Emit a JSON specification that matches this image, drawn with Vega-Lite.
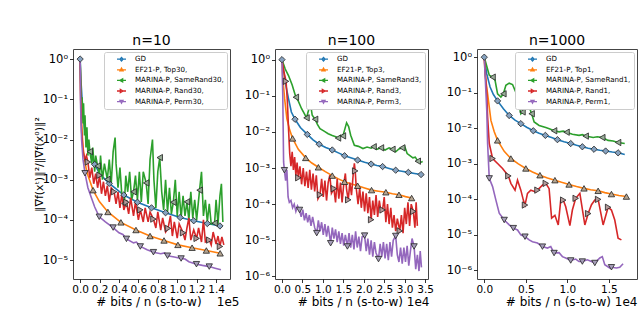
{
"$schema": "https://vega.github.io/schema/vega-lite/v6.json",
"padding": {"left": 32, "top": 33, "right": 0, "bottom": 0},
"background": "white",
"config": {
  "view": {"stroke": "#444", "strokeWidth": 1},
  "font": "DejaVu Sans",
  "axis": {"labelFont": "DejaVu Sans", "titleFont": "DejaVu Sans", "labelFontSize": 10.5, "titleFontSize": 12, "titleFontWeight": "normal", "grid": false, "domain": false, "tickColor": "#000", "tickSize": 3.5, "tickWidth": 0.8, "labelColor": "#000", "titleColor": "#000", "labelPadding": 2},
  "axisX": {"labelOverlap": false, "labelFlush": false},
  "axisY": {"labelFontSize": 11.5},
  "title": {"font": "DejaVu Sans", "fontSize": 14, "fontWeight": "normal", "offset": 1, "color": "#000"},
  "legend": {"orient": "top-right", "offset": 3, "title": null, "labelFont": "DejaVu Sans", "labelFontSize": 7.1, "labelColor": "#000", "fillColor": "white", "strokeColor": "#cccccc", "padding": 3, "cornerRadius": 2, "rowPadding": 1.6, "clipHeight": 8.4, "symbolSize": 40, "symbolOffset": 9, "labelOffset": 8}
},
"datasets": {
"p1": [
{"s":"GD","x":0,"y":1},{"s":"GD","x":0.01,"y":0.25},{"s":"GD","x":0.02,"y":0.1},{"s":"GD","x":0.035,"y":0.0316},{"s":"GD","x":0.05,"y":0.0158},{"s":"GD","x":0.08,"y":0.00708},{"s":"GD","x":0.12,"y":0.00355},{"s":"GD","x":0.156,"y":0.00229},{"s":"GD","x":0.2,"y":0.00141},{"s":"GD","x":0.3,"y":0.000813},{"s":"GD","x":0.45,"y":0.000417},{"s":"GD","x":0.59,"y":0.000275},{"s":"GD","x":0.735,"y":0.0002},{"s":"GD","x":0.88,"y":0.000151},{"s":"GD","x":1.03,"y":0.000115},{"s":"GD","x":1.17,"y":0.0000955},{"s":"GD","x":1.31,"y":0.0000813},{"s":"GD","x":1.44,"y":0.0000708},
{"s":"EF","x":0,"y":1},{"s":"EF","x":0.005,"y":0.158},{"s":"EF","x":0.015,"y":0.0251},{"s":"EF","x":0.03,"y":0.00631},{"s":"EF","x":0.06,"y":0.002},{"s":"EF","x":0.08,"y":0.00129},{"s":"EF","x":0.133,"y":0.00055},{"s":"EF","x":0.2,"y":0.000282},{"s":"EF","x":0.286,"y":0.000158},{"s":"EF","x":0.42,"y":0.0000871},{"s":"EF","x":0.575,"y":0.0000562},{"s":"EF","x":0.72,"y":0.0000398},{"s":"EF","x":0.864,"y":0.0000309},{"s":"EF","x":1.007,"y":0.000024},{"s":"EF","x":1.153,"y":0.0000204},{"s":"EF","x":1.3,"y":0.0000174},{"s":"EF","x":1.442,"y":0.0000148},
{"s":"SR","x":0,"y":1},{"s":"SR","x":0.005,"y":0.316},{"s":"SR","x":0.012,"y":0.1},{"s":"SR","x":0.02,"y":0.112},{"s":"SR","x":0.03,"y":0.0251},{"s":"SR","x":0.035,"y":0.0794},{"s":"SR","x":0.045,"y":0.0126},{"s":"SR","x":0.05,"y":0.0398},{"s":"SR","x":0.06,"y":0.00631},{"s":"SR","x":0.07,"y":0.02},{"s":"SR","x":0.08,"y":0.00398},{"s":"SR","x":0.09,"y":0.01},{"s":"SR","x":0.1,"y":0.00501},{"s":"SR","x":0.12,"y":0.00251},{"s":"SR","x":0.13,"y":0.00631},{"s":"SR","x":0.15,"y":0.00158},{"s":"SR","x":0.16,"y":0.00398},{"s":"SR","x":0.18,"y":0.00219},{"s":"SR","x":0.2,"y":0.00126},{"s":"SR","x":0.21,"y":0.00398},{"s":"SR","x":0.23,"y":0.001},{"s":"SR","x":0.25,"y":0.00251},{"s":"SR","x":0.28,"y":0.00102},{"s":"SR","x":0.3,"y":0.00316},{"s":"SR","x":0.32,"y":0.000794},{"s":"SR","x":0.34,"y":0.00501},{"s":"SR","x":0.36,"y":0.0112},{"s":"SR","x":0.37,"y":0.00251},{"s":"SR","x":0.39,"y":0.000631},{"s":"SR","x":0.41,"y":0.002},{"s":"SR","x":0.43,"y":0.000398},{"s":"SR","x":0.456,"y":0.000257},{"s":"SR","x":0.47,"y":0.00126},{"s":"SR","x":0.49,"y":0.000501},{"s":"SR","x":0.51,"y":0.00158},{"s":"SR","x":0.53,"y":0.000316},{"s":"SR","x":0.55,"y":0.000501},{"s":"SR","x":0.57,"y":0.00126},{"s":"SR","x":0.59,"y":0.000316},{"s":"SR","x":0.61,"y":0.00158},{"s":"SR","x":0.63,"y":0.000282},{"s":"SR","x":0.65,"y":0.00158},{"s":"SR","x":0.68,"y":0.000832},{"s":"SR","x":0.7,"y":0.000251},{"s":"SR","x":0.72,"y":0.00316},{"s":"SR","x":0.745,"y":0.01},{"s":"SR","x":0.76,"y":0.001},{"s":"SR","x":0.78,"y":0.0002},{"s":"SR","x":0.8,"y":0.00158},{"s":"SR","x":0.82,"y":0.00355},{"s":"SR","x":0.84,"y":0.000501},{"s":"SR","x":0.86,"y":0.000178},{"s":"SR","x":0.88,"y":0.001},{"s":"SR","x":0.9,"y":0.000158},{"s":"SR","x":0.92,"y":0.000631},{"s":"SR","x":0.94,"y":0.000141},{"s":"SR","x":0.96,"y":0.000275},{"s":"SR","x":0.98,"y":0.001},{"s":"SR","x":1.0,"y":0.000126},{"s":"SR","x":1.02,"y":0.000501},{"s":"SR","x":1.04,"y":0.000112},{"s":"SR","x":1.06,"y":0.000398},{"s":"SR","x":1.08,"y":0.000126},{"s":"SR","x":1.1,"y":0.000282},{"s":"SR","x":1.12,"y":0.0001},{"s":"SR","x":1.14,"y":0.000501},{"s":"SR","x":1.16,"y":0.000112},{"s":"SR","x":1.18,"y":0.000316},{"s":"SR","x":1.2,"y":0.0001},{"s":"SR","x":1.23,"y":0.00055},{"s":"SR","x":1.25,"y":0.00158},{"s":"SR","x":1.27,"y":0.000126},{"s":"SR","x":1.29,"y":0.000316},{"s":"SR","x":1.31,"y":0.0000891},{"s":"SR","x":1.33,"y":0.000251},{"s":"SR","x":1.35,"y":0.0000794},{"s":"SR","x":1.385,"y":0.0000832},{"s":"SR","x":1.4,"y":0.000316},{"s":"SR","x":1.42,"y":0.0000794},{"s":"SR","x":1.44,"y":0.000398},{"s":"SR","x":1.455,"y":0.000794},{"s":"SR","x":1.47,"y":0.0000891},
{"s":"R","x":0,"y":1},{"s":"R","x":0.005,"y":0.1},{"s":"R","x":0.015,"y":0.0158},{"s":"R","x":0.03,"y":0.00501},{"s":"R","x":0.05,"y":0.00316},{"s":"R","x":0.065,"y":0.00398},{"s":"R","x":0.08,"y":0.00275},{"s":"R","x":0.1,"y":0.00112},{"s":"R","x":0.12,"y":0.002},{"s":"R","x":0.14,"y":0.000794},{"s":"R","x":0.16,"y":0.00141},{"s":"R","x":0.18,"y":0.000631},{"s":"R","x":0.2,"y":0.00129},{"s":"R","x":0.22,"y":0.000447},{"s":"R","x":0.24,"y":0.000891},{"s":"R","x":0.26,"y":0.000398},{"s":"R","x":0.28,"y":0.000708},{"s":"R","x":0.3,"y":0.000282},{"s":"R","x":0.32,"y":0.000631},{"s":"R","x":0.35,"y":0.000501},{"s":"R","x":0.37,"y":0.000251},{"s":"R","x":0.39,"y":0.000501},{"s":"R","x":0.41,"y":0.0002},{"s":"R","x":0.43,"y":0.000447},{"s":"R","x":0.45,"y":0.000178},{"s":"R","x":0.477,"y":0.000275},{"s":"R","x":0.5,"y":0.000141},{"s":"R","x":0.52,"y":0.000355},{"s":"R","x":0.55,"y":0.000126},{"s":"R","x":0.57,"y":0.000282},{"s":"R","x":0.6,"y":0.0001},{"s":"R","x":0.62,"y":0.000178},{"s":"R","x":0.65,"y":0.0000891},{"s":"R","x":0.67,"y":0.0002},{"s":"R","x":0.7,"y":0.0000891},{"s":"R","x":0.72,"y":0.000158},{"s":"R","x":0.755,"y":0.000105},{"s":"R","x":0.78,"y":0.0000631},{"s":"R","x":0.8,"y":0.000158},{"s":"R","x":0.83,"y":0.0000562},{"s":"R","x":0.85,"y":0.000112},{"s":"R","x":0.88,"y":0.0000501},{"s":"R","x":0.905,"y":0.0000617},{"s":"R","x":0.93,"y":0.000126},{"s":"R","x":0.95,"y":0.0000398},{"s":"R","x":0.97,"y":0.0000891},{"s":"R","x":1.0,"y":0.0000355},{"s":"R","x":1.02,"y":0.0000794},{"s":"R","x":1.06,"y":0.0000479},{"s":"R","x":1.08,"y":0.0000316},{"s":"R","x":1.1,"y":0.0000631},{"s":"R","x":1.12,"y":0.000112},{"s":"R","x":1.14,"y":0.0000316},{"s":"R","x":1.17,"y":0.0000562},{"s":"R","x":1.2,"y":0.0000347},{"s":"R","x":1.22,"y":0.0000631},{"s":"R","x":1.25,"y":0.0000282},{"s":"R","x":1.27,"y":0.0001},{"s":"R","x":1.29,"y":0.0000282},{"s":"R","x":1.33,"y":0.0000316},{"s":"R","x":1.35,"y":0.000024},{"s":"R","x":1.37,"y":0.0000501},{"s":"R","x":1.4,"y":0.0000251},{"s":"R","x":1.42,"y":0.0000398},{"s":"R","x":1.44,"y":0.0000219},{"s":"R","x":1.46,"y":0.000038},{"s":"R","x":1.48,"y":0.000024},
{"s":"P","x":0,"y":1},{"s":"P","x":0.005,"y":0.0631},{"s":"P","x":0.015,"y":0.01},{"s":"P","x":0.03,"y":0.00316},{"s":"P","x":0.05,"y":0.00145},{"s":"P","x":0.08,"y":0.000631},{"s":"P","x":0.116,"y":0.000355},{"s":"P","x":0.15,"y":0.000209},{"s":"P","x":0.197,"y":0.00012},{"s":"P","x":0.26,"y":0.0000891},{"s":"P","x":0.34,"y":0.0000646},{"s":"P","x":0.4,"y":0.0000479},{"s":"P","x":0.44,"y":0.0000437},{"s":"P","x":0.477,"y":0.0000339},{"s":"P","x":0.55,"y":0.0000269},{"s":"P","x":0.58,"y":0.0000282},{"s":"P","x":0.62,"y":0.0000219},{"s":"P","x":0.69,"y":0.0000182},{"s":"P","x":0.755,"y":0.0000158},{"s":"P","x":0.83,"y":0.0000145},{"s":"P","x":0.87,"y":0.0000151},{"s":"P","x":0.9,"y":0.0000129},{"s":"P","x":0.97,"y":0.000012},{"s":"P","x":1.04,"y":0.000011},{"s":"P","x":1.08,"y":0.0000107},{"s":"P","x":1.12,"y":0.00000912},{"s":"P","x":1.198,"y":0.00000794},{"s":"P","x":1.26,"y":0.00000741},{"s":"P","x":1.33,"y":0.00000692},{"s":"P","x":1.39,"y":0.00000631},{"s":"P","x":1.45,"y":0.00000575}
],
"p1m": [
{"m":"GD","x":0,"y":1},{"m":"GD","x":0.15,"y":0.0024},{"m":"GD","x":0.3,"y":0.000813},{"m":"GD","x":0.45,"y":0.000417},{"m":"GD","x":0.59,"y":0.000275},{"m":"GD","x":0.735,"y":0.0002},{"m":"GD","x":0.88,"y":0.000151},{"m":"GD","x":1.03,"y":0.000115},{"m":"GD","x":1.17,"y":0.0000955},{"m":"GD","x":1.31,"y":0.0000813},{"m":"GD","x":1.44,"y":0.0000708},
{"m":"EF","x":0.133,"y":0.00055},{"m":"EF","x":0.286,"y":0.000158},{"m":"EF","x":0.42,"y":0.0000871},{"m":"EF","x":0.575,"y":0.0000562},{"m":"EF","x":0.72,"y":0.0000398},{"m":"EF","x":0.864,"y":0.0000309},{"m":"EF","x":1.007,"y":0.000024},{"m":"EF","x":1.153,"y":0.0000204},{"m":"EF","x":1.3,"y":0.0000174},{"m":"EF","x":1.442,"y":0.0000148},
{"m":"SR","x":0.1,"y":0.00501},{"m":"SR","x":0.18,"y":0.00219},{"m":"SR","x":0.28,"y":0.00102},{"m":"SR","x":0.456,"y":0.000257},{"m":"SR","x":0.55,"y":0.000501},{"m":"SR","x":0.68,"y":0.000832},{"m":"SR","x":0.82,"y":0.00355},{"m":"SR","x":0.96,"y":0.000275},{"m":"SR","x":1.1,"y":0.000282},{"m":"SR","x":1.23,"y":0.00055},{"m":"SR","x":1.385,"y":0.0000832},
{"m":"R","x":0.08,"y":0.00275},{"m":"R","x":0.2,"y":0.00129},{"m":"R","x":0.35,"y":0.000501},{"m":"R","x":0.477,"y":0.000275},{"m":"R","x":0.62,"y":0.000178},{"m":"R","x":0.755,"y":0.000105},{"m":"R","x":0.905,"y":0.0000617},{"m":"R","x":1.06,"y":0.0000479},{"m":"R","x":1.2,"y":0.0000347},{"m":"R","x":1.33,"y":0.0000316},{"m":"R","x":1.44,"y":0.0000219},
{"m":"P","x":0.05,"y":0.00145},{"m":"P","x":0.197,"y":0.00012},{"m":"P","x":0.34,"y":0.0000646},{"m":"P","x":0.477,"y":0.0000339},{"m":"P","x":0.62,"y":0.0000219},{"m":"P","x":0.755,"y":0.0000158},{"m":"P","x":0.9,"y":0.0000129},{"m":"P","x":1.04,"y":0.000011},{"m":"P","x":1.198,"y":0.00000794},{"m":"P","x":1.33,"y":0.00000692}
],
"p2": [
{"s":"GD","x":0,"y":1},{"s":"GD","x":0.04,"y":0.501},{"s":"GD","x":0.08,"y":0.24},{"s":"GD","x":0.16,"y":0.0832},{"s":"GD","x":0.23,"y":0.0355},{"s":"GD","x":0.32,"y":0.0224},{"s":"GD","x":0.45,"y":0.0132},{"s":"GD","x":0.62,"y":0.00851},{"s":"GD","x":0.76,"y":0.00603},{"s":"GD","x":0.91,"y":0.00457},{"s":"GD","x":1.07,"y":0.00372},{"s":"GD","x":1.23,"y":0.00316},{"s":"GD","x":1.38,"y":0.00263},{"s":"GD","x":1.53,"y":0.00219},{"s":"GD","x":1.7,"y":0.00191},{"s":"GD","x":1.85,"y":0.00166},{"s":"GD","x":2.02,"y":0.00145},{"s":"GD","x":2.18,"y":0.00129},{"s":"GD","x":2.32,"y":0.00117},{"s":"GD","x":2.46,"y":0.0011},{"s":"GD","x":2.62,"y":0.000977},{"s":"GD","x":2.78,"y":0.000871},{"s":"GD","x":2.93,"y":0.000813},{"s":"GD","x":3.09,"y":0.000759},{"s":"GD","x":3.24,"y":0.000708},{"s":"GD","x":3.4,"y":0.000661},
{"s":"EF","x":0,"y":1},{"s":"EF","x":0.02,"y":0.316},{"s":"EF","x":0.065,"y":0.0832},{"s":"EF","x":0.12,"y":0.0234},{"s":"EF","x":0.19,"y":0.0112},{"s":"EF","x":0.26,"y":0.00661},{"s":"EF","x":0.4,"y":0.00331},{"s":"EF","x":0.58,"y":0.00191},{"s":"EF","x":0.73,"y":0.00138},{"s":"EF","x":0.89,"y":0.00105},{"s":"EF","x":1.06,"y":0.000794},{"s":"EF","x":1.23,"y":0.000617},{"s":"EF","x":1.38,"y":0.000501},{"s":"EF","x":1.53,"y":0.000417},{"s":"EF","x":1.7,"y":0.000363},{"s":"EF","x":1.85,"y":0.000324},{"s":"EF","x":2.02,"y":0.000282},{"s":"EF","x":2.19,"y":0.000245},{"s":"EF","x":2.36,"y":0.000229},{"s":"EF","x":2.54,"y":0.000214},{"s":"EF","x":2.7,"y":0.000195},{"s":"EF","x":2.86,"y":0.000182},{"s":"EF","x":3.02,"y":0.000162},{"s":"EF","x":3.17,"y":0.000148},
{"s":"SR","x":0,"y":1},{"s":"SR","x":0.08,"y":0.55},{"s":"SR","x":0.16,"y":0.363},{"s":"SR","x":0.25,"y":0.2},{"s":"SR","x":0.34,"y":0.0912},{"s":"SR","x":0.4,"y":0.0708},{"s":"SR","x":0.48,"y":0.0437},{"s":"SR","x":0.55,"y":0.0316},{"s":"SR","x":0.6,"y":0.0245},{"s":"SR","x":0.65,"y":0.0398},{"s":"SR","x":0.69,"y":0.0676},{"s":"SR","x":0.74,"y":0.0288},{"s":"SR","x":0.81,"y":0.0224},{"s":"SR","x":0.87,"y":0.0158},{"s":"SR","x":0.93,"y":0.0123},{"s":"SR","x":1.03,"y":0.0105},{"s":"SR","x":1.13,"y":0.00891},{"s":"SR","x":1.23,"y":0.00794},{"s":"SR","x":1.33,"y":0.00724},{"s":"SR","x":1.37,"y":0.00676},{"s":"SR","x":1.43,"y":0.00794},{"s":"SR","x":1.49,"y":0.00776},{"s":"SR","x":1.53,"y":0.0112},{"s":"SR","x":1.58,"y":0.0178},{"s":"SR","x":1.63,"y":0.0141},{"s":"SR","x":1.68,"y":0.00813},{"s":"SR","x":1.77,"y":0.00427},{"s":"SR","x":1.87,"y":0.00398},{"s":"SR","x":1.98,"y":0.00347},{"s":"SR","x":2.08,"y":0.0038},{"s":"SR","x":2.18,"y":0.00355},{"s":"SR","x":2.24,"y":0.00389},{"s":"SR","x":2.32,"y":0.00331},{"s":"SR","x":2.42,"y":0.00363},{"s":"SR","x":2.52,"y":0.00316},{"s":"SR","x":2.62,"y":0.00363},{"s":"SR","x":2.7,"y":0.00331},{"s":"SR","x":2.78,"y":0.00282},{"s":"SR","x":2.86,"y":0.00339},{"s":"SR","x":2.94,"y":0.00363},{"s":"SR","x":3.0,"y":0.00398},{"s":"SR","x":3.06,"y":0.00251},{"s":"SR","x":3.12,"y":0.00224},{"s":"SR","x":3.2,"y":0.00191},{"s":"SR","x":3.26,"y":0.002},{"s":"SR","x":3.32,"y":0.00155},{"s":"SR","x":3.4,"y":0.00145},{"s":"SR","x":3.44,"y":0.00151},
{"s":"R","x":0,"y":1},{"s":"R","x":0.05,"y":0.447},{"s":"R","x":0.1,"y":0.251},{"s":"R","x":0.13,"y":0.0794},{"s":"R","x":0.16,"y":0.0126},{"s":"R","x":0.19,"y":0.00251},{"s":"R","x":0.22,"y":0.00112},{"s":"R","x":0.25,"y":0.00282},{"s":"R","x":0.28,"y":0.000891},{"s":"R","x":0.31,"y":0.002},{"s":"R","x":0.34,"y":0.000631},{"s":"R","x":0.37,"y":0.00141},{"s":"R","x":0.4,"y":0.000537},{"s":"R","x":0.44,"y":0.00112},{"s":"R","x":0.48,"y":0.000355},{"s":"R","x":0.52,"y":0.001},{"s":"R","x":0.56,"y":0.000316},{"s":"R","x":0.6,"y":0.000794},{"s":"R","x":0.64,"y":0.000282},{"s":"R","x":0.68,"y":0.000891},{"s":"R","x":0.72,"y":0.000251},{"s":"R","x":0.76,"y":0.000708},{"s":"R","x":0.8,"y":0.000224},{"s":"R","x":0.84,"y":0.000631},{"s":"R","x":0.88,"y":0.000141},{"s":"R","x":0.93,"y":0.000182},{"s":"R","x":0.97,"y":0.000501},{"s":"R","x":1.01,"y":0.000158},{"s":"R","x":1.05,"y":0.000447},{"s":"R","x":1.09,"y":0.000126},{"s":"R","x":1.13,"y":0.000398},{"s":"R","x":1.17,"y":0.000631},{"s":"R","x":1.21,"y":0.0002},{"s":"R","x":1.27,"y":0.000269},{"s":"R","x":1.31,"y":0.000112},{"s":"R","x":1.35,"y":0.000501},{"s":"R","x":1.39,"y":0.000141},{"s":"R","x":1.43,"y":0.000398},{"s":"R","x":1.47,"y":0.000112},{"s":"R","x":1.51,"y":0.000355},{"s":"R","x":1.55,"y":0.000708},{"s":"R","x":1.58,"y":0.000251},{"s":"R","x":1.62,"y":0.000132},{"s":"R","x":1.66,"y":0.000398},{"s":"R","x":1.7,"y":0.000178},{"s":"R","x":1.74,"y":0.000631},{"s":"R","x":1.77,"y":0.00135},{"s":"R","x":1.79,"y":0.000832},{"s":"R","x":1.82,"y":0.000251},{"s":"R","x":1.86,"y":0.0001},{"s":"R","x":1.9,"y":0.000282},{"s":"R","x":1.94,"y":0.0000794},{"s":"R","x":1.98,"y":0.000224},{"s":"R","x":2.02,"y":0.0000631},{"s":"R","x":2.06,"y":0.0002},{"s":"R","x":2.1,"y":0.0000562},{"s":"R","x":2.14,"y":0.000158},{"s":"R","x":2.18,"y":0.0000372},{"s":"R","x":2.22,"y":0.000126},{"s":"R","x":2.26,"y":0.0000501},{"s":"R","x":2.3,"y":0.000178},{"s":"R","x":2.34,"y":0.0000447},{"s":"R","x":2.38,"y":0.000126},{"s":"R","x":2.42,"y":0.0000631},{"s":"R","x":2.46,"y":0.0000692},{"s":"R","x":2.5,"y":0.000158},{"s":"R","x":2.54,"y":0.0000316},{"s":"R","x":2.58,"y":0.0001},{"s":"R","x":2.62,"y":0.0000282},{"s":"R","x":2.66,"y":0.0000794},{"s":"R","x":2.7,"y":0.0000224},{"s":"R","x":2.74,"y":0.0000501},{"s":"R","x":2.78,"y":0.0000178},{"s":"R","x":2.82,"y":0.0000398},{"s":"R","x":2.88,"y":0.0000182},{"s":"R","x":2.92,"y":0.0000501},{"s":"R","x":2.96,"y":0.0000158},{"s":"R","x":3.0,"y":0.0000794},{"s":"R","x":3.04,"y":0.0000282},{"s":"R","x":3.08,"y":0.000112},{"s":"R","x":3.12,"y":0.0000251},{"s":"R","x":3.16,"y":0.0001},{"s":"R","x":3.21,"y":0.0000631},{"s":"R","x":3.25,"y":0.0000224},{"s":"R","x":3.28,"y":0.000112},{"s":"R","x":3.31,"y":0.0000251},
{"s":"P","x":0,"y":1},{"s":"P","x":0.02,"y":0.1},{"s":"P","x":0.04,"y":0.00148},{"s":"P","x":0.06,"y":0.000871},{"s":"P","x":0.09,"y":0.000447},{"s":"P","x":0.12,"y":0.000891},{"s":"P","x":0.15,"y":0.000158},{"s":"P","x":0.18,"y":0.000112},{"s":"P","x":0.22,"y":0.000126},{"s":"P","x":0.26,"y":0.0000794},{"s":"P","x":0.3,"y":0.0001},{"s":"P","x":0.34,"y":0.0000631},{"s":"P","x":0.38,"y":0.0000891},{"s":"P","x":0.43,"y":0.0000692},{"s":"P","x":0.47,"y":0.0000447},{"s":"P","x":0.51,"y":0.0000708},{"s":"P","x":0.55,"y":0.0000355},{"s":"P","x":0.59,"y":0.0000562},{"s":"P","x":0.63,"y":0.0000316},{"s":"P","x":0.67,"y":0.0000501},{"s":"P","x":0.71,"y":0.0000251},{"s":"P","x":0.75,"y":0.0000447},{"s":"P","x":0.8,"y":0.0000224},{"s":"P","x":0.85,"y":0.0000158},{"s":"P","x":0.89,"y":0.0000355},{"s":"P","x":0.93,"y":0.0000178},{"s":"P","x":0.97,"y":0.0000316},{"s":"P","x":1.01,"y":0.0000141},{"s":"P","x":1.05,"y":0.0000282},{"s":"P","x":1.09,"y":0.0000126},{"s":"P","x":1.13,"y":0.0000251},{"s":"P","x":1.19,"y":0.00000832},{"s":"P","x":1.23,"y":0.0000224},{"s":"P","x":1.27,"y":0.0000112},{"s":"P","x":1.31,"y":0.00002},{"s":"P","x":1.35,"y":0.00000891},{"s":"P","x":1.39,"y":0.0000178},{"s":"P","x":1.43,"y":0.00000794},{"s":"P","x":1.47,"y":0.0000158},{"s":"P","x":1.51,"y":0.00000708},{"s":"P","x":1.55,"y":0.0000141},{"s":"P","x":1.6,"y":0.00000676},{"s":"P","x":1.64,"y":0.0000158},{"s":"P","x":1.68,"y":0.00000631},{"s":"P","x":1.72,"y":0.0000141},{"s":"P","x":1.76,"y":0.00000562},{"s":"P","x":1.8,"y":0.0000178},{"s":"P","x":1.84,"y":0.00000631},{"s":"P","x":1.88,"y":0.0000126},{"s":"P","x":1.92,"y":0.00000501},{"s":"P","x":1.96,"y":0.0000126},{"s":"P","x":2.02,"y":0.0000135},{"s":"P","x":2.06,"y":0.00000501},{"s":"P","x":2.1,"y":0.0000112},{"s":"P","x":2.14,"y":0.00000398},{"s":"P","x":2.18,"y":0.00001},{"s":"P","x":2.22,"y":0.00000355},{"s":"P","x":2.26,"y":0.00000891},{"s":"P","x":2.3,"y":0.00000447},{"s":"P","x":2.36,"y":0.00000302},{"s":"P","x":2.4,"y":0.00000794},{"s":"P","x":2.44,"y":0.00000355},{"s":"P","x":2.48,"y":0.00000891},{"s":"P","x":2.52,"y":0.00000316},{"s":"P","x":2.56,"y":0.00000794},{"s":"P","x":2.6,"y":0.00000282},{"s":"P","x":2.64,"y":0.00000891},{"s":"P","x":2.68,"y":0.00000355},{"s":"P","x":2.72,"y":0.00001},{"s":"P","x":2.78,"y":0.0000132},{"s":"P","x":2.82,"y":0.00000398},{"s":"P","x":2.86,"y":0.00000251},{"s":"P","x":2.9,"y":0.00000631},{"s":"P","x":2.94,"y":0.00000224},{"s":"P","x":2.98,"y":0.00000631},{"s":"P","x":3.02,"y":0.00000251},{"s":"P","x":3.06,"y":0.00000708},{"s":"P","x":3.1,"y":0.000002},{"s":"P","x":3.14,"y":0.00000501},{"s":"P","x":3.18,"y":0.0000112},{"s":"P","x":3.23,"y":0.00000676},{"s":"P","x":3.27,"y":0.00000158},{"s":"P","x":3.31,"y":0.00000398},{"s":"P","x":3.35,"y":0.00000141},{"s":"P","x":3.38,"y":0.00000501},{"s":"P","x":3.41,"y":0.00000178}
],
"p2m": [
{"m":"GD","x":0,"y":1},{"m":"GD","x":0.32,"y":0.0224},{"m":"GD","x":0.62,"y":0.00851},{"m":"GD","x":0.91,"y":0.00457},{"m":"GD","x":1.23,"y":0.00316},{"m":"GD","x":1.53,"y":0.00219},{"m":"GD","x":1.85,"y":0.00166},{"m":"GD","x":2.18,"y":0.00129},{"m":"GD","x":2.46,"y":0.0011},{"m":"GD","x":2.78,"y":0.000871},{"m":"GD","x":3.09,"y":0.000759},{"m":"GD","x":3.4,"y":0.000661},
{"m":"EF","x":0.26,"y":0.00661},{"m":"EF","x":0.58,"y":0.00191},{"m":"EF","x":0.89,"y":0.00105},{"m":"EF","x":1.23,"y":0.000617},{"m":"EF","x":1.53,"y":0.000417},{"m":"EF","x":1.85,"y":0.000324},{"m":"EF","x":2.19,"y":0.000245},{"m":"EF","x":2.54,"y":0.000214},{"m":"EF","x":2.86,"y":0.000182},{"m":"EF","x":3.17,"y":0.000148},
{"m":"SR","x":0.34,"y":0.0912},{"m":"SR","x":0.6,"y":0.0245},{"m":"SR","x":0.81,"y":0.0224},{"m":"SR","x":1.37,"y":0.00676},{"m":"SR","x":1.49,"y":0.00776},{"m":"SR","x":2.24,"y":0.00389},{"m":"SR","x":2.42,"y":0.00363},{"m":"SR","x":2.7,"y":0.00331},{"m":"SR","x":2.94,"y":0.00363},{"m":"SR","x":3.32,"y":0.00155},
{"m":"R","x":0.1,"y":0.251},{"m":"R","x":0.4,"y":0.000537},{"m":"R","x":0.93,"y":0.000182},{"m":"R","x":1.27,"y":0.000269},{"m":"R","x":1.62,"y":0.000132},{"m":"R","x":1.79,"y":0.000832},{"m":"R","x":2.18,"y":0.0000372},{"m":"R","x":2.46,"y":0.0000692},{"m":"R","x":2.88,"y":0.0000182},{"m":"R","x":3.21,"y":0.0000631},
{"m":"P","x":0.06,"y":0.000871},{"m":"P","x":0.43,"y":0.0000692},{"m":"P","x":0.85,"y":0.0000158},{"m":"P","x":1.19,"y":0.00000832},{"m":"P","x":1.6,"y":0.00000676},{"m":"P","x":2.02,"y":0.0000135},{"m":"P","x":2.36,"y":0.00000302},{"m":"P","x":2.78,"y":0.0000132},{"m":"P","x":3.23,"y":0.00000676}
],
"p3": [
{"s":"GD","x":0,"y":1},{"s":"GD","x":0.03,"y":0.339},{"s":"GD","x":0.07,"y":0.145},{"s":"GD","x":0.11,"y":0.0891},{"s":"GD","x":0.16,"y":0.0589},{"s":"GD","x":0.23,"y":0.0355},{"s":"GD","x":0.3,"y":0.0229},{"s":"GD","x":0.37,"y":0.017},{"s":"GD","x":0.44,"y":0.0135},{"s":"GD","x":0.51,"y":0.0107},{"s":"GD","x":0.59,"y":0.00851},{"s":"GD","x":0.66,"y":0.00724},{"s":"GD","x":0.735,"y":0.00631},{"s":"GD","x":0.81,"y":0.0055},{"s":"GD","x":0.88,"y":0.00479},{"s":"GD","x":0.96,"y":0.00417},{"s":"GD","x":1.04,"y":0.00372},{"s":"GD","x":1.11,"y":0.00331},{"s":"GD","x":1.18,"y":0.00302},{"s":"GD","x":1.25,"y":0.00275},{"s":"GD","x":1.32,"y":0.00257},{"s":"GD","x":1.39,"y":0.0024},{"s":"GD","x":1.46,"y":0.00229},{"s":"GD","x":1.54,"y":0.00214},{"s":"GD","x":1.61,"y":0.00204},{"s":"GD","x":1.69,"y":0.00182},
{"s":"EF","x":0,"y":1},{"s":"EF","x":0.01,"y":0.316},{"s":"EF","x":0.04,"y":0.0933},{"s":"EF","x":0.08,"y":0.0166},{"s":"EF","x":0.12,"y":0.00794},{"s":"EF","x":0.16,"y":0.00457},{"s":"EF","x":0.24,"y":0.00224},{"s":"EF","x":0.32,"y":0.00141},{"s":"EF","x":0.41,"y":0.001},{"s":"EF","x":0.5,"y":0.000741},{"s":"EF","x":0.58,"y":0.000589},{"s":"EF","x":0.67,"y":0.000479},{"s":"EF","x":0.76,"y":0.000398},{"s":"EF","x":0.85,"y":0.000347},{"s":"EF","x":0.93,"y":0.000302},{"s":"EF","x":1.02,"y":0.000263},{"s":"EF","x":1.11,"y":0.000229},{"s":"EF","x":1.2,"y":0.000204},{"s":"EF","x":1.28,"y":0.000186},{"s":"EF","x":1.37,"y":0.000174},{"s":"EF","x":1.45,"y":0.000155},{"s":"EF","x":1.53,"y":0.000141},{"s":"EF","x":1.62,"y":0.000129},{"s":"EF","x":1.71,"y":0.00012},
{"s":"SR","x":0,"y":1},{"s":"SR","x":0.06,"y":0.309},{"s":"SR","x":0.1,"y":0.275},{"s":"SR","x":0.13,"y":0.224},{"s":"SR","x":0.16,"y":0.0933},{"s":"SR","x":0.2,"y":0.0759},{"s":"SR","x":0.23,"y":0.0933},{"s":"SR","x":0.26,"y":0.162},{"s":"SR","x":0.3,"y":0.186},{"s":"SR","x":0.34,"y":0.17},{"s":"SR","x":0.37,"y":0.117},{"s":"SR","x":0.4,"y":0.0759},{"s":"SR","x":0.44,"y":0.0257},{"s":"SR","x":0.46,"y":0.0288},{"s":"SR","x":0.5,"y":0.0355},{"s":"SR","x":0.54,"y":0.0398},{"s":"SR","x":0.57,"y":0.0257},{"s":"SR","x":0.6,"y":0.0151},{"s":"SR","x":0.66,"y":0.012},{"s":"SR","x":0.74,"y":0.0105},{"s":"SR","x":0.79,"y":0.00955},{"s":"SR","x":0.84,"y":0.00851},{"s":"SR","x":0.9,"y":0.00794},{"s":"SR","x":0.95,"y":0.00832},{"s":"SR","x":0.99,"y":0.00776},{"s":"SR","x":1.06,"y":0.00676},{"s":"SR","x":1.14,"y":0.00631},{"s":"SR","x":1.18,"y":0.00661},{"s":"SR","x":1.22,"y":0.00603},{"s":"SR","x":1.31,"y":0.0055},{"s":"SR","x":1.36,"y":0.00575},{"s":"SR","x":1.42,"y":0.0055},{"s":"SR","x":1.49,"y":0.00457},{"s":"SR","x":1.55,"y":0.00437},{"s":"SR","x":1.61,"y":0.00398},{"s":"SR","x":1.69,"y":0.00372},
{"s":"R","x":0,"y":1},{"s":"R","x":0.03,"y":0.0933},{"s":"R","x":0.04,"y":0.0209},{"s":"R","x":0.06,"y":0.00372},{"s":"R","x":0.1,"y":0.00141},{"s":"R","x":0.16,"y":0.00102},{"s":"R","x":0.22,"y":0.000741},{"s":"R","x":0.29,"y":0.000457},{"s":"R","x":0.32,"y":0.000282},{"s":"R","x":0.37,"y":0.000182},{"s":"R","x":0.4,"y":0.000347},{"s":"R","x":0.44,"y":0.000182},{"s":"R","x":0.47,"y":0.0000955},{"s":"R","x":0.49,"y":0.0000692},{"s":"R","x":0.52,"y":0.000148},{"s":"R","x":0.56,"y":0.000182},{"s":"R","x":0.62,"y":0.000162},{"s":"R","x":0.64,"y":0.000182},{"s":"R","x":0.7,"y":0.000251},{"s":"R","x":0.74,"y":0.000282},{"s":"R","x":0.78,"y":0.0002},{"s":"R","x":0.81,"y":0.0000295},{"s":"R","x":0.85,"y":0.0000355},{"s":"R","x":0.89,"y":0.0000191},{"s":"R","x":0.92,"y":0.0000955},{"s":"R","x":0.95,"y":0.0000955},{"s":"R","x":0.98,"y":0.0000617},{"s":"R","x":1.03,"y":0.0000182},{"s":"R","x":1.06,"y":0.0000501},{"s":"R","x":1.1,"y":0.000107},{"s":"R","x":1.15,"y":0.000148},{"s":"R","x":1.21,"y":0.0000191},{"s":"R","x":1.25,"y":0.0000398},{"s":"R","x":1.29,"y":0.0000708},{"s":"R","x":1.33,"y":0.0000955},{"s":"R","x":1.37,"y":0.0001},{"s":"R","x":1.43,"y":0.0000191},{"s":"R","x":1.49,"y":0.00006},{"s":"R","x":1.53,"y":0.0000501},{"s":"R","x":1.57,"y":0.0000263},{"s":"R","x":1.61,"y":0.00000813},{"s":"R","x":1.65,"y":0.00000724},
{"s":"P","x":0,"y":1},{"s":"P","x":0.03,"y":0.0316},{"s":"P","x":0.04,"y":0.00372},{"s":"P","x":0.06,"y":0.000389},{"s":"P","x":0.1,"y":0.000229},{"s":"P","x":0.14,"y":0.0000955},{"s":"P","x":0.18,"y":0.0000407},{"s":"P","x":0.24,"y":0.0000263},{"s":"P","x":0.3,"y":0.0000191},{"s":"P","x":0.35,"y":0.0000155},{"s":"P","x":0.4,"y":0.0000138},{"s":"P","x":0.44,"y":0.00001},{"s":"P","x":0.49,"y":0.00000891},{"s":"P","x":0.54,"y":0.00000724},{"s":"P","x":0.58,"y":0.00000646},{"s":"P","x":0.64,"y":0.00000589},{"s":"P","x":0.7,"y":0.00000468},{"s":"P","x":0.76,"y":0.00000427},{"s":"P","x":0.8,"y":0.00000468},{"s":"P","x":0.84,"y":0.00000309},{"s":"P","x":0.9,"y":0.00000316},{"s":"P","x":0.94,"y":0.00000245},{"s":"P","x":0.98,"y":0.00000224},{"s":"P","x":1.04,"y":0.00000191},{"s":"P","x":1.1,"y":0.00000209},{"s":"P","x":1.14,"y":0.00000178},{"s":"P","x":1.18,"y":0.00000178},{"s":"P","x":1.24,"y":0.000002},{"s":"P","x":1.29,"y":0.00000178},{"s":"P","x":1.33,"y":0.00000162},{"s":"P","x":1.39,"y":0.00000224},{"s":"P","x":1.42,"y":0.00000245},{"s":"P","x":1.45,"y":0.00000145},{"s":"P","x":1.51,"y":0.00000117},{"s":"P","x":1.53,"y":0.00000123},{"s":"P","x":1.59,"y":0.00000117},{"s":"P","x":1.63,"y":0.00000123},{"s":"P","x":1.67,"y":0.00000155}
],
"p3m": [
{"m":"GD","x":0,"y":1},{"m":"GD","x":0.16,"y":0.0589},{"m":"GD","x":0.3,"y":0.0229},{"m":"GD","x":0.44,"y":0.0135},{"m":"GD","x":0.59,"y":0.00851},{"m":"GD","x":0.735,"y":0.00631},{"m":"GD","x":0.88,"y":0.00479},{"m":"GD","x":1.04,"y":0.00372},{"m":"GD","x":1.18,"y":0.00302},{"m":"GD","x":1.32,"y":0.00257},{"m":"GD","x":1.46,"y":0.00229},{"m":"GD","x":1.61,"y":0.00204},
{"m":"EF","x":0.16,"y":0.00457},{"m":"EF","x":0.32,"y":0.00141},{"m":"EF","x":0.5,"y":0.000741},{"m":"EF","x":0.67,"y":0.000479},{"m":"EF","x":0.85,"y":0.000347},{"m":"EF","x":1.02,"y":0.000263},{"m":"EF","x":1.2,"y":0.000204},{"m":"EF","x":1.37,"y":0.000174},{"m":"EF","x":1.53,"y":0.000141},{"m":"EF","x":1.71,"y":0.00012},
{"m":"SR","x":0.1,"y":0.275},{"m":"SR","x":0.23,"y":0.0933},{"m":"SR","x":0.46,"y":0.0288},{"m":"SR","x":0.57,"y":0.0257},{"m":"SR","x":0.84,"y":0.00851},{"m":"SR","x":0.99,"y":0.00776},{"m":"SR","x":1.22,"y":0.00603},{"m":"SR","x":1.42,"y":0.0055},{"m":"SR","x":1.61,"y":0.00398},
{"m":"R","x":0.1,"y":0.00141},{"m":"R","x":0.29,"y":0.000457},{"m":"R","x":0.49,"y":0.0000692},{"m":"R","x":0.64,"y":0.000182},{"m":"R","x":0.74,"y":0.000282},{"m":"R","x":0.95,"y":0.0000955},{"m":"R","x":1.1,"y":0.000107},{"m":"R","x":1.25,"y":0.0000398},{"m":"R","x":1.37,"y":0.0001},{"m":"R","x":1.49,"y":0.00006},
{"m":"P","x":0.06,"y":0.000389},{"m":"P","x":0.24,"y":0.0000263},{"m":"P","x":0.35,"y":0.0000155},{"m":"P","x":0.49,"y":0.00000891},{"m":"P","x":0.7,"y":0.00000468},{"m":"P","x":0.84,"y":0.00000309},{"m":"P","x":1.04,"y":0.00000191},{"m":"P","x":1.18,"y":0.00000178},{"m":"P","x":1.33,"y":0.00000162},{"m":"P","x":1.53,"y":0.00000123}
]
},
"resolve": {"scale": {"x": "independent", "y": "independent", "color": "independent"}, "legend": {"color": "independent"}, "axis": {"x": "independent", "y": "independent"}},
"spacing": 3,
"hconcat": [
{
 "width": 157, "height": 230,
 "title": {"text": "n=10"},
 "encoding": {
  "x": {"field": "x", "type": "quantitative", "scale": {"domain": [-0.0735, 1.5435], "nice": false, "zero": false}, "axis": {"values": [0, 0.2, 0.4, 0.6, 0.8, 1.0, 1.2, 1.4], "format": ".1f", "labelOverlap": false, "labelFlush": false, "title": "# bits / n (s-to-w)\u00a0\u00a0\u00a0\u00a01e5", "titleX": 166, "titleAlign": "right", "titlePadding": 1}},
  "y": {"field": "y", "type": "quantitative", "scale": {"type": "log", "domain": [0.0000034, 1.78], "nice": false}, "axis": {"values": [1, 0.1, 0.01, 0.001, 0.0001, 0.00001], "labelExpr": "datum.value >= 0.5 ? '10⁰' : datum.value >= 0.05 ? '10⁻¹' : datum.value >= 0.005 ? '10⁻²' : datum.value >= 0.0005 ? '10⁻³' : datum.value >= 0.00005 ? '10⁻⁴' : datum.value >= 0.000005 ? '10⁻⁵' : '10⁻⁶'", "title": "‖∇f(xᵗ)‖²/‖∇f(x⁰)‖²", "titleFontSize": 11, "titlePadding": 3, "minExtent": 26, "maxExtent": 26}}
 },
 "layer": [
  {"data": {"name": "p1"}, "mark": {"type": "line", "strokeWidth": 1.6, "clip": true},
   "encoding": {
    "color": {"field": "s", "type": "nominal", "scale": {"domain": ["GD", "EF", "SR", "R", "P"], "range": ["#1f77b4", "#ff7f0e", "#2ca02c", "#d62728", "#9467bd"]},
     "legend": {"labelExpr": "datum.label == 'GD' ? 'GD' : datum.label == 'EF' ? 'EF21-P, Top30,' : datum.label == 'SR' ? 'MARINA-P, SameRand30,' : datum.label == 'R' ? 'MARINA-P, Rand30,' : 'MARINA-P, Perm30,'",
      "encode": {"symbols": {"update": {
        "shape": {"signal": "datum.value == 'GD' ? 'M-1,0L-0.36,0M0.36,0L1,0M0,-0.4L0.34,0L0,0.4L-0.34,0Z' : datum.value == 'EF' ? 'M-1,0L-0.34,0M0.34,0L1,0M0,-0.36L0.34,0.26L-0.34,0.26Z' : datum.value == 'SR' ? 'M-1,0L-0.3,0M0.3,0L1,0M-0.34,0L0.26,-0.34L0.26,0.34Z' : datum.value == 'R' ? 'M-1,0L-0.3,0M0.3,0L1,0M0.34,0L-0.26,-0.34L-0.26,0.34Z' : 'M-1,0L-0.34,0M0.34,0L1,0M0,0.36L0.34,-0.26L-0.34,-0.26Z'"},
        "fill": {"signal": "datum.value == 'GD' ? '#1f77b4' : datum.value == 'EF' ? '#ff7f0e' : datum.value == 'SR' ? '#2ca02c' : datum.value == 'R' ? '#d62728' : '#9467bd'"},
        "stroke": {"signal": "datum.value == 'GD' ? '#1f77b4' : datum.value == 'EF' ? '#ff7f0e' : datum.value == 'SR' ? '#2ca02c' : datum.value == 'R' ? '#d62728' : '#9467bd'"},
        "fillOpacity": {"value": 0.8}, "opacity": {"value": 1}, "strokeWidth": {"value": 1.3}, "size": {"value": 81}}}}}}
   }},
  {"data": {"name": "p1m"}, "transform": [{"filter": "datum.m == 'GD'"}], "mark": {"type": "point", "shape": "diamond", "filled": true, "fill": "#86a2c0", "size": 40, "stroke": "#222", "strokeWidth": 0.8, "opacity": 1, "clip": true}},
  {"data": {"name": "p1m"}, "transform": [{"filter": "datum.m == 'EF'"}], "mark": {"type": "point", "shape": "triangle-up", "filled": true, "fill": "#b5a591", "size": 40, "stroke": "#222", "strokeWidth": 0.8, "opacity": 1, "clip": true}},
  {"data": {"name": "p1m"}, "transform": [{"filter": "datum.m == 'SR'"}], "mark": {"type": "point", "shape": "triangle-left", "filled": true, "fill": "#98ad98", "size": 40, "stroke": "#222", "strokeWidth": 0.8, "opacity": 1, "clip": true}},
  {"data": {"name": "p1m"}, "transform": [{"filter": "datum.m == 'R'"}], "mark": {"type": "point", "shape": "triangle-right", "filled": true, "fill": "#b39a9a", "size": 40, "stroke": "#222", "strokeWidth": 0.8, "opacity": 1, "clip": true}},
  {"data": {"name": "p1m"}, "transform": [{"filter": "datum.m == 'P'"}], "mark": {"type": "point", "shape": "triangle-down", "filled": true, "fill": "#a59db8", "size": 40, "stroke": "#222", "strokeWidth": 0.8, "opacity": 1, "clip": true}}
 ]
},
{
 "width": 153, "height": 230,
 "title": {"text": "n=100"},
 "encoding": {
  "x": {"field": "x", "type": "quantitative", "scale": {"domain": [-0.17, 3.57], "nice": false, "zero": false}, "axis": {"values": [0, 0.5, 1.0, 1.5, 2.0, 2.5, 3.0, 3.5], "format": ".1f", "labelOverlap": false, "labelFlush": false, "title": "# bits / n (s-to-w) 1e4", "titleX": 154, "titleAlign": "right", "titlePadding": 1}},
  "y": {"field": "y", "type": "quantitative", "scale": {"type": "log", "domain": [0.00000085, 1.97], "nice": false}, "axis": {"values": [1, 0.1, 0.01, 0.001, 0.0001, 0.00001, 0.000001], "labelExpr": "datum.value >= 0.5 ? '10⁰' : datum.value >= 0.05 ? '10⁻¹' : datum.value >= 0.005 ? '10⁻²' : datum.value >= 0.0005 ? '10⁻³' : datum.value >= 0.00005 ? '10⁻⁴' : datum.value >= 0.000005 ? '10⁻⁵' : '10⁻⁶'", "title": null, "minExtent": 28, "maxExtent": 28}}
 },
 "layer": [
  {"data": {"name": "p2"}, "mark": {"type": "line", "strokeWidth": 1.6, "clip": true},
   "encoding": {
    "color": {"field": "s", "type": "nominal", "scale": {"domain": ["GD", "EF", "SR", "R", "P"], "range": ["#1f77b4", "#ff7f0e", "#2ca02c", "#d62728", "#9467bd"]},
     "legend": {"labelExpr": "datum.label == 'GD' ? 'GD' : datum.label == 'EF' ? 'EF21-P, Top3,' : datum.label == 'SR' ? 'MARINA-P, SameRand3,' : datum.label == 'R' ? 'MARINA-P, Rand3,' : 'MARINA-P, Perm3,'",
      "encode": {"symbols": {"update": {
        "shape": {"signal": "datum.value == 'GD' ? 'M-1,0L-0.36,0M0.36,0L1,0M0,-0.4L0.34,0L0,0.4L-0.34,0Z' : datum.value == 'EF' ? 'M-1,0L-0.34,0M0.34,0L1,0M0,-0.36L0.34,0.26L-0.34,0.26Z' : datum.value == 'SR' ? 'M-1,0L-0.3,0M0.3,0L1,0M-0.34,0L0.26,-0.34L0.26,0.34Z' : datum.value == 'R' ? 'M-1,0L-0.3,0M0.3,0L1,0M0.34,0L-0.26,-0.34L-0.26,0.34Z' : 'M-1,0L-0.34,0M0.34,0L1,0M0,0.36L0.34,-0.26L-0.34,-0.26Z'"},
        "fill": {"signal": "datum.value == 'GD' ? '#1f77b4' : datum.value == 'EF' ? '#ff7f0e' : datum.value == 'SR' ? '#2ca02c' : datum.value == 'R' ? '#d62728' : '#9467bd'"},
        "stroke": {"signal": "datum.value == 'GD' ? '#1f77b4' : datum.value == 'EF' ? '#ff7f0e' : datum.value == 'SR' ? '#2ca02c' : datum.value == 'R' ? '#d62728' : '#9467bd'"},
        "fillOpacity": {"value": 0.8}, "opacity": {"value": 1}, "strokeWidth": {"value": 1.3}, "size": {"value": 81}}}}}}
   }},
  {"data": {"name": "p2m"}, "transform": [{"filter": "datum.m == 'GD'"}], "mark": {"type": "point", "shape": "diamond", "filled": true, "fill": "#86a2c0", "size": 40, "stroke": "#222", "strokeWidth": 0.8, "opacity": 1, "clip": true}},
  {"data": {"name": "p2m"}, "transform": [{"filter": "datum.m == 'EF'"}], "mark": {"type": "point", "shape": "triangle-up", "filled": true, "fill": "#b5a591", "size": 40, "stroke": "#222", "strokeWidth": 0.8, "opacity": 1, "clip": true}},
  {"data": {"name": "p2m"}, "transform": [{"filter": "datum.m == 'SR'"}], "mark": {"type": "point", "shape": "triangle-left", "filled": true, "fill": "#98ad98", "size": 40, "stroke": "#222", "strokeWidth": 0.8, "opacity": 1, "clip": true}},
  {"data": {"name": "p2m"}, "transform": [{"filter": "datum.m == 'R'"}], "mark": {"type": "point", "shape": "triangle-right", "filled": true, "fill": "#b39a9a", "size": 40, "stroke": "#222", "strokeWidth": 0.8, "opacity": 1, "clip": true}},
  {"data": {"name": "p2m"}, "transform": [{"filter": "datum.m == 'P'"}], "mark": {"type": "point", "shape": "triangle-down", "filled": true, "fill": "#a59db8", "size": 40, "stroke": "#222", "strokeWidth": 0.8, "opacity": 1, "clip": true}}
 ]
},
{
 "width": 160, "height": 230,
 "title": {"text": "n=1000"},
 "encoding": {
  "x": {"field": "x", "type": "quantitative", "scale": {"domain": [-0.0875, 1.8375], "nice": false, "zero": false}, "axis": {"values": [0, 0.5, 1.0, 1.5], "format": ".1f", "labelOverlap": false, "labelFlush": false, "title": "# bits / n (s-to-w) 1e4", "titleX": 160, "titleAlign": "right", "titlePadding": 1}},
  "y": {"field": "y", "type": "quantitative", "scale": {"type": "log", "domain": [0.000000575, 1.7], "nice": false}, "axis": {"values": [1, 0.1, 0.01, 0.001, 0.0001, 0.00001, 0.000001], "labelExpr": "datum.value >= 0.5 ? '10⁰' : datum.value >= 0.05 ? '10⁻¹' : datum.value >= 0.005 ? '10⁻²' : datum.value >= 0.0005 ? '10⁻³' : datum.value >= 0.00005 ? '10⁻⁴' : datum.value >= 0.000005 ? '10⁻⁵' : '10⁻⁶'", "title": null, "minExtent": 39, "maxExtent": 39}}
 },
 "layer": [
  {"data": {"name": "p3"}, "mark": {"type": "line", "strokeWidth": 1.6, "clip": true},
   "encoding": {
    "color": {"field": "s", "type": "nominal", "scale": {"domain": ["GD", "EF", "SR", "R", "P"], "range": ["#1f77b4", "#ff7f0e", "#2ca02c", "#d62728", "#9467bd"]},
     "legend": {"labelExpr": "datum.label == 'GD' ? 'GD' : datum.label == 'EF' ? 'EF21-P, Top1,' : datum.label == 'SR' ? 'MARINA-P, SameRand1,' : datum.label == 'R' ? 'MARINA-P, Rand1,' : 'MARINA-P, Perm1,'",
      "encode": {"symbols": {"update": {
        "shape": {"signal": "datum.value == 'GD' ? 'M-1,0L-0.36,0M0.36,0L1,0M0,-0.4L0.34,0L0,0.4L-0.34,0Z' : datum.value == 'EF' ? 'M-1,0L-0.34,0M0.34,0L1,0M0,-0.36L0.34,0.26L-0.34,0.26Z' : datum.value == 'SR' ? 'M-1,0L-0.3,0M0.3,0L1,0M-0.34,0L0.26,-0.34L0.26,0.34Z' : datum.value == 'R' ? 'M-1,0L-0.3,0M0.3,0L1,0M0.34,0L-0.26,-0.34L-0.26,0.34Z' : 'M-1,0L-0.34,0M0.34,0L1,0M0,0.36L0.34,-0.26L-0.34,-0.26Z'"},
        "fill": {"signal": "datum.value == 'GD' ? '#1f77b4' : datum.value == 'EF' ? '#ff7f0e' : datum.value == 'SR' ? '#2ca02c' : datum.value == 'R' ? '#d62728' : '#9467bd'"},
        "stroke": {"signal": "datum.value == 'GD' ? '#1f77b4' : datum.value == 'EF' ? '#ff7f0e' : datum.value == 'SR' ? '#2ca02c' : datum.value == 'R' ? '#d62728' : '#9467bd'"},
        "fillOpacity": {"value": 0.8}, "opacity": {"value": 1}, "strokeWidth": {"value": 1.3}, "size": {"value": 81}}}}}}
   }},
  {"data": {"name": "p3m"}, "transform": [{"filter": "datum.m == 'GD'"}], "mark": {"type": "point", "shape": "diamond", "filled": true, "fill": "#86a2c0", "size": 40, "stroke": "#222", "strokeWidth": 0.8, "opacity": 1, "clip": true}},
  {"data": {"name": "p3m"}, "transform": [{"filter": "datum.m == 'EF'"}], "mark": {"type": "point", "shape": "triangle-up", "filled": true, "fill": "#b5a591", "size": 40, "stroke": "#222", "strokeWidth": 0.8, "opacity": 1, "clip": true}},
  {"data": {"name": "p3m"}, "transform": [{"filter": "datum.m == 'SR'"}], "mark": {"type": "point", "shape": "triangle-left", "filled": true, "fill": "#98ad98", "size": 40, "stroke": "#222", "strokeWidth": 0.8, "opacity": 1, "clip": true}},
  {"data": {"name": "p3m"}, "transform": [{"filter": "datum.m == 'R'"}], "mark": {"type": "point", "shape": "triangle-right", "filled": true, "fill": "#b39a9a", "size": 40, "stroke": "#222", "strokeWidth": 0.8, "opacity": 1, "clip": true}},
  {"data": {"name": "p3m"}, "transform": [{"filter": "datum.m == 'P'"}], "mark": {"type": "point", "shape": "triangle-down", "filled": true, "fill": "#a59db8", "size": 40, "stroke": "#222", "strokeWidth": 0.8, "opacity": 1, "clip": true}}
 ]
}
]
}
